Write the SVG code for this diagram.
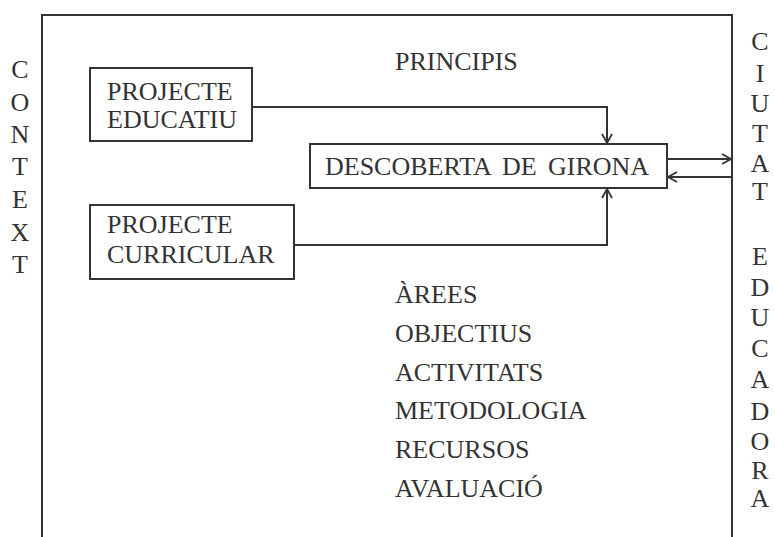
<svg xmlns="http://www.w3.org/2000/svg" width="775" height="537" viewBox="0 0 775 537">
<style>
text{font-family:"Liberation Serif","Times New Roman",serif;font-size:26px;fill:#333}
.v{text-anchor:middle}
.box{fill:#fff;stroke:#333;stroke-width:2}
.ln{fill:none;stroke:#333;stroke-width:2}
.ar{fill:none;stroke:#333;stroke-width:2}
</style>
<defs>
<marker id="ah" viewBox="0 0 12 12" refX="11" refY="6" markerWidth="12" markerHeight="12" markerUnits="userSpaceOnUse" orient="auto">
<path d="M2,1 L11,6 L2,11" fill="none" stroke="#333" stroke-width="1.8"/>
</marker>
</defs>
<rect width="775" height="537" fill="#fff"/>
<g id="frame">
<path class="ln" d="M42,537 V15 H732 V537"/>
</g>
<g id="context">
<text class="v" x="20" y="78">C</text>
<text class="v" x="20" y="111">O</text>
<text class="v" x="20" y="143">N</text>
<text class="v" x="20" y="175">T</text>
<text class="v" x="20" y="208">E</text>
<text class="v" x="20" y="241">X</text>
<text class="v" x="20" y="273">T</text>
</g>
<g id="ciutat-educadora">
<text class="v" x="760" y="50">C</text>
<text class="v" x="760" y="82">I</text>
<text class="v" x="760" y="112">U</text>
<text class="v" x="760" y="142">T</text>
<text class="v" x="760" y="172">A</text>
<text class="v" x="760" y="200">T</text>
<text class="v" x="760" y="265">E</text>
<text class="v" x="760" y="296">D</text>
<text class="v" x="760" y="326">U</text>
<text class="v" x="760" y="357">C</text>
<text class="v" x="760" y="388">A</text>
<text class="v" x="760" y="420">D</text>
<text class="v" x="760" y="450">O</text>
<text class="v" x="760" y="479">R</text>
<text class="v" x="760" y="507">A</text>
</g>
<g id="principis">
<text x="395" y="70">PRINCIPIS</text>
</g>
<g id="projecte-educatiu">
<rect class="box" x="90" y="68" width="162" height="73"/>
<text x="107" y="100">PROJECTE</text>
<text x="107" y="128">EDUCATIU</text>
</g>
<g id="projecte-curricular">
<rect class="box" x="90" y="205" width="204" height="74"/>
<text x="107" y="233">PROJECTE</text>
<text x="107" y="263">CURRICULAR</text>
</g>
<g id="descoberta">
<rect class="box" x="310" y="144" width="357" height="44"/>
<text x="325" y="175" style="word-spacing:5px">DESCOBERTA DE GIRONA</text>
</g>
<g id="connectors">
<path class="ar" d="M252,107 H607 V143" marker-end="url(#ah)"/>
<path class="ar" d="M294,245 H607 V189" marker-end="url(#ah)"/>
<path class="ar" d="M667,159 H731" marker-end="url(#ah)"/>
<path class="ar" d="M732,177 H668" marker-end="url(#ah)"/>
</g>
<g id="llista">
<text x="395" y="303">ÀREES</text>
<text x="395" y="342">OBJECTIUS</text>
<text x="395" y="381">ACTIVITATS</text>
<text x="395" y="419">METODOLOGIA</text>
<text x="395" y="458">RECURSOS</text>
<text x="395" y="497">AVALUACIÓ</text>
</g>
</svg>
